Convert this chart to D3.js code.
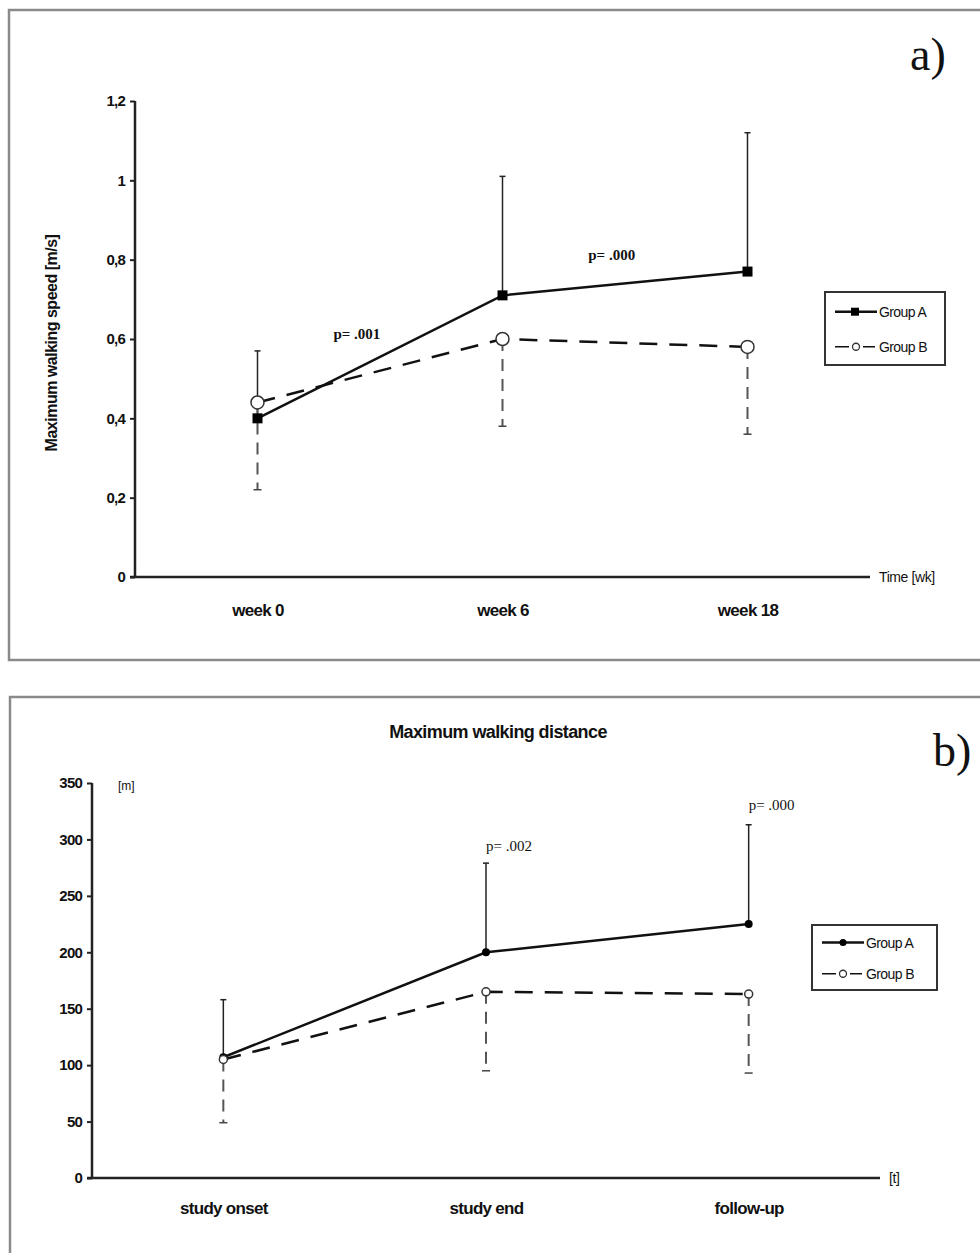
<!DOCTYPE html>
<html>
<head>
<meta charset="utf-8">
<script src="https://cdn.jsdelivr.net/npm/d3@7"></script>
<style>
  body { margin: 0; background: #fff; }
  text { font-family: "Liberation Sans", Arial, sans-serif; fill: #111; }
  .serif { font-family: "Liberation Serif", "DejaVu Serif", serif; }
</style>
</head>
<body>
<div id="chart"></div>
<script>
// panel a: maximum walking speed
var speedWeeks = ["week 0", "week 6", "week 18"];
var speedA = [0.40, 0.71, 0.77];
var speedAUpper = [0.57, 1.01, 1.12];
var speedB = [0.44, 0.60, 0.58];
var speedBLower = [0.22, 0.38, 0.36];
var speedTicks = [0, 0.2, 0.4, 0.6, 0.8, 1, 1.2];
var speedP = [{ at: 0.31, text: "p= .001", value: 0.60 },
  { at: 1.35, text: "p= .000", value: 0.80 }];

// panel b: maximum walking distance
var distPhases = ["study onset", "study end", "follow-up"];
var distA = [107, 200, 225];
var distAUpper = [158, 279, 313];
var distB = [105, 165, 163];
var distBLower = [49, 95, 93];
var distTicks = [0, 50, 100, 150, 200, 250, 300, 350];
var distP = [{ at: 1.0, text: "p= .002", value: 290 },
  { at: 2.0, text: "p= .000", value: 326 }];

var svg = d3.select("#chart").append("svg")
  .attr("width", 980)
  .attr("height", 1253);

// panel frames
svg.append("rect").attr("x", 9).attr("y", 10).attr("width", 990).attr("height", 650)
  .attr("fill", "none").attr("stroke", "#8a8a8a").attr("stroke-width", 2.5);
svg.append("rect").attr("x", 10).attr("y", 697).attr("width", 990).attr("height", 600)
  .attr("fill", "none").attr("stroke", "#8a8a8a").attr("stroke-width", 2.5);

function drawPanel(opt) {
  var g = svg.append("g");

  var x = d3.scalePoint()
    .domain(opt.categories)
    .range([opt.left, opt.right])
    .padding(0.5);

  var y = d3.scaleLinear()
    .domain([0, d3.max(opt.ticks)])
    .range([opt.bottom, opt.top]);

  // y axis
  var yAxis = g.append("g")
    .attr("transform", `translate(${opt.left},0)`)
    .call(d3.axisLeft(y).tickValues(opt.ticks).tickFormat(opt.format).tickSize(5).tickPadding(5));
  yAxis.select(".domain").attr("stroke", "#222").attr("stroke-width", 2.5).attr("d", `M0,${opt.top}V${opt.bottom}`);
  yAxis.selectAll(".tick line").attr("stroke", "#222").attr("stroke-width", 2);
  yAxis.selectAll(".tick text").attr("font-size", 15).attr("font-weight", "bold")
    .attr("letter-spacing", -0.8)
    .style("font-family", "'Liberation Sans', sans-serif");

  // x axis
  var xAxis = g.append("g")
    .attr("transform", `translate(0,${opt.bottom})`)
    .call(d3.axisBottom(x).tickSize(0).tickPadding(opt.xPad));
  xAxis.select(".domain").attr("stroke", "#222").attr("stroke-width", 2.5)
    .attr("d", `M${opt.left - 5},0H${opt.axisEnd}`);
  xAxis.selectAll(".tick text").attr("font-size", 17).attr("font-weight", "bold")
    .attr("letter-spacing", -0.7)
    .style("font-family", "'Liberation Sans', sans-serif");

  g.append("text")
    .attr("x", opt.axisEnd + 9).attr("y", opt.bottom + 5)
    .attr("font-size", 14)
    .attr("letter-spacing", -0.4)
    .text(opt.xUnit);

  // error bars: group A upward (solid), group B downward (dashed)
  opt.categories.forEach(function(c, i) {
    g.append("line")
      .attr("x1", x(c)).attr("x2", x(c))
      .attr("y1", y(opt.a[i])).attr("y2", y(opt.aUp[i]))
      .attr("stroke", "#222").attr("stroke-width", 1.5);
    g.append("line")
      .attr("x1", x(c) - 3).attr("x2", x(c) + 3)
      .attr("y1", y(opt.aUp[i])).attr("y2", y(opt.aUp[i]))
      .attr("stroke", "#222").attr("stroke-width", 1.5);
    g.append("line")
      .attr("x1", x(c)).attr("x2", x(c))
      .attr("y1", y(opt.b[i])).attr("y2", y(opt.bLow[i]))
      .attr("stroke", "#555").attr("stroke-width", 2)
      .attr("stroke-dasharray", "12,8");
    g.append("line")
      .attr("x1", x(c) - 4).attr("x2", x(c) + 4)
      .attr("y1", y(opt.bLow[i])).attr("y2", y(opt.bLow[i]))
      .attr("stroke", "#444").attr("stroke-width", 1.5);
  });

  var line = d3.line()
    .x(d => x(d.c))
    .y(d => y(d.v));

  var dataA = opt.categories.map((c, i) => ({ c: c, v: opt.a[i] }));
  var dataB = opt.categories.map((c, i) => ({ c: c, v: opt.b[i] }));

  g.append("path")
    .datum(dataB)
    .attr("d", line)
    .attr("fill", "none")
    .attr("stroke", "#111")
    .attr("stroke-width", 2.5)
    .attr("stroke-dasharray", "18,12");

  g.append("path")
    .datum(dataA)
    .attr("d", line)
    .attr("fill", "none")
    .attr("stroke", "#111")
    .attr("stroke-width", 2.5);

  // markers
  if (opt.square) {
    g.selectAll(".markA").data(dataA).enter().append("rect")
      .attr("x", d => x(d.c) - 5).attr("y", d => y(d.v) - 5)
      .attr("width", 10).attr("height", 10).attr("fill", "#000");
  } else {
    g.selectAll(".markA").data(dataA).enter().append("circle")
      .attr("cx", d => x(d.c)).attr("cy", d => y(d.v))
      .attr("r", 4).attr("fill", "#000");
  }
  g.selectAll(".markB").data(dataB).enter().append("circle")
    .attr("cx", d => x(d.c)).attr("cy", d => y(d.v))
    .attr("r", opt.square ? 6.5 : 4)
    .attr("fill", "#fff").attr("stroke", "#333").attr("stroke-width", 1.5);

  // p values, placed at a fractional category position
  var step = x.step();
  opt.pvals.forEach(function(p) {
    g.append("text")
      .attr("class", "serif")
      .attr("x", x(opt.categories[0]) + p.at * step).attr("y", y(p.value))
      .attr("text-anchor", "start")
      .attr("font-size", opt.pSize)
      .attr("font-weight", opt.pWeight)
      .text(p.text);
  });

  // legend
  var lg = g.append("g").attr("transform", `translate(${opt.legend[0]},${opt.legend[1]})`);
  lg.append("rect").attr("width", opt.legend[2]).attr("height", opt.legend[3])
    .attr("fill", "#fff").attr("stroke", "#333").attr("stroke-width", 2);
  var rowY = [opt.legend[3] * 0.27, opt.legend[3] * 0.75];
  lg.append("line").attr("x1", 10).attr("x2", 52).attr("y1", rowY[0]).attr("y2", rowY[0])
    .attr("stroke", "#111").attr("stroke-width", 2.5);
  if (opt.square) {
    lg.append("rect").attr("x", 26).attr("y", rowY[0] - 4).attr("width", 8).attr("height", 8).attr("fill", "#000");
  } else {
    lg.append("circle").attr("cx", 31).attr("cy", rowY[0]).attr("r", 3.5).attr("fill", "#000");
  }
  lg.append("line").attr("x1", 10).attr("x2", 24).attr("y1", rowY[1]).attr("y2", rowY[1])
    .attr("stroke", "#111").attr("stroke-width", 1.5);
  lg.append("line").attr("x1", 38).attr("x2", 50).attr("y1", rowY[1]).attr("y2", rowY[1])
    .attr("stroke", "#111").attr("stroke-width", 1.5);
  lg.append("circle").attr("cx", 31).attr("cy", rowY[1]).attr("r", 3.5)
    .attr("fill", "#fff").attr("stroke", "#333").attr("stroke-width", 1.3);
  ["Group A", "Group B"].forEach(function(t, i) {
    lg.append("text").attr("x", 54).attr("y", rowY[i] + 5)
      .attr("font-size", 14).attr("letter-spacing", -0.6).text(t);
  });

  // panel letter
  g.append("text")
    .attr("class", "serif")
    .attr("x", opt.letter[0]).attr("y", opt.letter[1])
    .attr("font-size", 46)
    .text(opt.letter[2]);

  return { x: x, y: y, g: g };
}

var pa = drawPanel({
  categories: speedWeeks, a: speedA, aUp: speedAUpper, b: speedB, bLow: speedBLower,
  ticks: speedTicks, format: d => d3.format(".1~f")(d).replace(".", ","),
  left: 135, right: 870, top: 101, bottom: 577, axisEnd: 870, xPad: 27,
  xUnit: "Time [wk]", square: true,
  pvals: speedP, pSize: 15, pWeight: "bold",
  legend: [825, 292, 120, 73],
  letter: [910, 70, "a)"]
});

pa.g.append("text")
  .attr("transform", "translate(57,343) rotate(-90)")
  .attr("text-anchor", "middle")
  .attr("font-size", 16)
  .attr("font-weight", "bold")
  .attr("letter-spacing", -0.5)
  .text("Maximum walking speed [m/s]");

var pb = drawPanel({
  categories: distPhases, a: distA, aUp: distAUpper, b: distB, bLow: distBLower,
  ticks: distTicks, format: d3.format("d"),
  left: 92, right: 880, top: 783, bottom: 1178, axisEnd: 880, xPad: 24,
  xUnit: "[t]", square: false,
  pvals: distP, pSize: 15, pWeight: "normal",
  legend: [812, 925, 125, 65],
  letter: [933, 766, "b)"]
});

pb.g.append("text")
  .attr("x", 118).attr("y", 790)
  .attr("font-size", 12)
  .text("[m]");

pb.g.append("text")
  .attr("x", 498).attr("y", 738)
  .attr("text-anchor", "middle")
  .attr("font-size", 18)
  .attr("font-weight", "bold")
  .attr("letter-spacing", -0.6)
  .text("Maximum walking distance");
</script>
</body>
</html>
